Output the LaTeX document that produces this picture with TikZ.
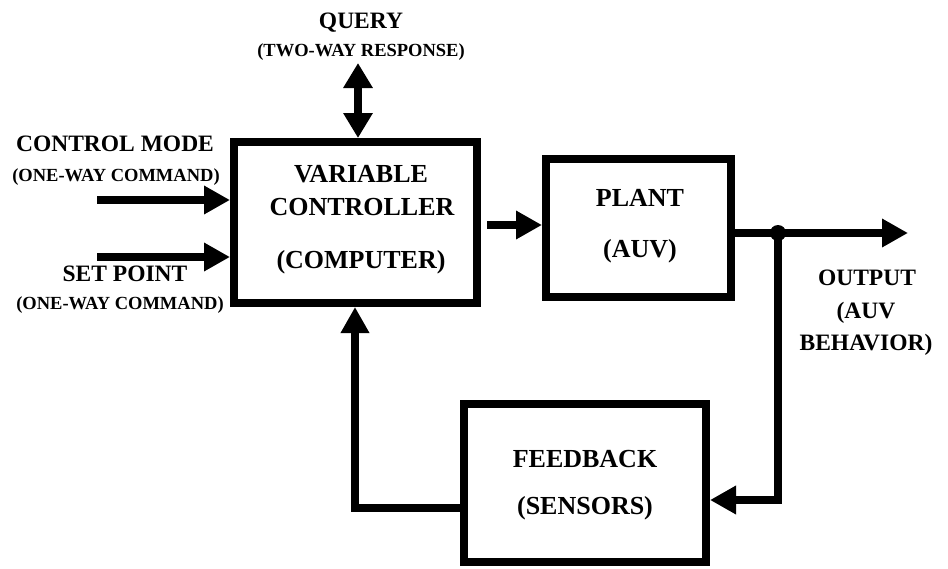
\documentclass[tikz,border=0pt]{standalone}
\usepackage{fontspec}
\setmainfont{Liberation Serif}
\usetikzlibrary{arrows.meta}

\tikzset{
  block/.style={draw, line width=8pt, fill=white, inner sep=0pt},
  wire/.style={line width=8pt, line join=miter},
  sig/.style={wire, -{Triangle[length=26pt,width=27pt]}},
  bigtxt/.style={anchor=base, inner sep=0pt, font=\bfseries\fontsize{26}{30}\selectfont},
  midtxt/.style={anchor=base, inner sep=0pt, font=\bfseries\fontsize{23.5}{28}\selectfont},
  smalltxt/.style={anchor=base, inner sep=0pt, font=\bfseries\fontsize{18.5}{22}\selectfont},
}

\begin{document}
\begin{tikzpicture}[x=1pt, y=-1pt]
  \useasboundingbox (0,0) rectangle (948,568);

  % blocks
  \node[block, minimum width=243pt, minimum height=161pt] (ctrl) at (355.5,222.5) {};
  \node[block, minimum width=185pt, minimum height=138pt] (plant) at (638.5,228) {};
  \node[block, minimum width=242pt, minimum height=158pt] (fb) at (585,483) {};

  % block labels
  \node[bigtxt] (t-var) at (361,182) {VARIABLE};
  \node[bigtxt] (t-ctl) at (362,215) {CONTROLLER};
  \node[bigtxt] (t-cmp) at (361,268) {(COMPUTER)};
  \node[bigtxt] (t-plant) at (640,206) {PLANT};
  \node[bigtxt] (t-auv) at (640,257) {(AUV)};
  \node[bigtxt] (t-fb) at (585,467) {FEEDBACK};
  \node[bigtxt] (t-sen) at (585,514) {(SENSORS)};

  % outside labels
  \node[midtxt] (t-query) at (361,28) {QUERY};
  \node[smalltxt] (t-two) at (361,56) {(TWO-WAY RESPONSE)};
  \node[midtxt] (t-cm) at (115,151) {CONTROL MODE};
  \node[smalltxt] (t-cm2) at (116,181) {(ONE-WAY COMMAND)};
  \node[midtxt] (t-sp) at (125,281) {SET POINT};
  \node[smalltxt] (t-sp2) at (120,309) {(ONE-WAY COMMAND)};
  \node[midtxt] (t-out) at (867,285) {OUTPUT};
  \node[midtxt] (t-out2) at (866,318) {(AUV};
  \node[midtxt] (t-out3) at (866,350) {BEHAVIOR)};

  % connector end points
  \coordinate (cmin) at (97,200);
  \coordinate (spin) at (97,257);
  \coordinate (qtop) at (358,63);
  \coordinate (cp) at (487,225);
  \coordinate (jn) at (778,233);
  \coordinate (outtip) at (908,233);
  \coordinate (fbin) at (778,500);
  \coordinate (fbout) at (355,508);

  % inputs
  \draw[sig] (cmin) -- (cmin -| ctrl.west);
  \draw[sig] (spin) -- (spin -| ctrl.west);
  \draw[wire, {Triangle[length=25pt,width=28pt]}-{Triangle[length=25pt,width=28pt]}]
    (qtop) -- (qtop |- ctrl.north);

  % forward path
  \draw[sig] (cp) -- (cp -| plant.west);
  \draw[sig] (jn -| plant.east) -- (outtip);
  \fill (jn) circle (8pt);

  % feedback loop
  \draw[sig] (jn) -- (fbin) -- (fbin -| fb.east);
  \draw[sig] (fbout -| fb.west) -- (fbout) -- (fbout |- ctrl.south);
\end{tikzpicture}
\end{document}
